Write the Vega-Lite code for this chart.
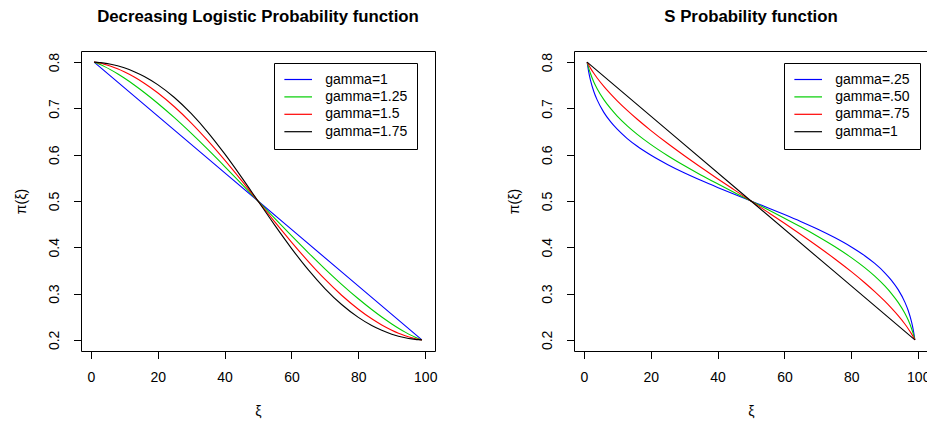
{
  "$schema": "https://vega.github.io/schema/vega-lite/v6.json",
  "background": "white",
  "padding": {"left": 13, "top": 8, "right": 0, "bottom": 0},
  "config": {
    "font": "Liberation Sans",
    "view": {"stroke": "black", "strokeWidth": 1},
    "axis": {
      "grid": false, "domain": false, "tickColor": "black", "tickSize": 7.5, "tickWidth": 1,
      "labelFont": "Liberation Sans", "labelFontSize": 14, "labelColor": "black",
      "titleFont": "Liberation Sans", "titleFontSize": 14, "titleFontWeight": "normal", "titleColor": "black"
    },
    "axisX": {"labelBaseline": "middle", "labelPadding": 19, "titleX": 177, "titleY": 60, "titleAlign": "center", "titleBaseline": "middle"},
    "axisY": {"labelAngle": 270, "labelAlign": "center", "labelBaseline": "middle", "labelPadding": 19.5, "titleX": -60, "titleY": 150, "titleAlign": "center", "titleBaseline": "middle", "titleAngle": 270},
    "title": {"font": "Liberation Sans", "fontSize": 16.8, "fontWeight": "bold", "color": "black", "anchor": "middle", "baseline": "alphabetic", "offset": 25.7},
    "legend": {
      "orient": "none", "legendY": 12, "title": null, "symbolType": "M-3,0H3", "symbolSize": 85, "symbolStrokeWidth": 1.2, "symbolOffset": 7.7,
      "labelFont": "Liberation Sans", "labelFontSize": 14, "labelColor": "black", "labelOffset": 20, "padding": 9.5, "rowPadding": 3.4,
      "strokeColor": "black", "fillColor": "white"
    }
  },
  "datasets": {
    "left": [
      {"g": "gamma=1", "x": 1, "y": 0.8}, {"g": "gamma=1", "x": 25, "y": 0.6531}, {"g": "gamma=1", "x": 50, "y": 0.5}, {"g": "gamma=1", "x": 75, "y": 0.3469}, {"g": "gamma=1", "x": 99, "y": 0.2},
      {"g": "gamma=1.25", "x": 1, "y": 0.8}, {"g": "gamma=1.25", "x": 2, "y": 0.7973}, {"g": "gamma=1.25", "x": 3, "y": 0.7942}, {"g": "gamma=1.25", "x": 4, "y": 0.7908}, {"g": "gamma=1.25", "x": 6, "y": 0.7832}, {"g": "gamma=1.25", "x": 8, "y": 0.7747}, {"g": "gamma=1.25", "x": 10, "y": 0.7655}, {"g": "gamma=1.25", "x": 13, "y": 0.7506}, {"g": "gamma=1.25", "x": 16, "y": 0.7344}, {"g": "gamma=1.25", "x": 20, "y": 0.7112}, {"g": "gamma=1.25", "x": 25, "y": 0.6799}, {"g": "gamma=1.25", "x": 30, "y": 0.6464}, {"g": "gamma=1.25", "x": 35, "y": 0.6113}, {"g": "gamma=1.25", "x": 40, "y": 0.5749}, {"g": "gamma=1.25", "x": 45, "y": 0.5377}, {"g": "gamma=1.25", "x": 50, "y": 0.5}, {"g": "gamma=1.25", "x": 55, "y": 0.4623}, {"g": "gamma=1.25", "x": 60, "y": 0.4251}, {"g": "gamma=1.25", "x": 65, "y": 0.3887}, {"g": "gamma=1.25", "x": 70, "y": 0.3536}, {"g": "gamma=1.25", "x": 75, "y": 0.3201}, {"g": "gamma=1.25", "x": 80, "y": 0.2888}, {"g": "gamma=1.25", "x": 84, "y": 0.2656}, {"g": "gamma=1.25", "x": 87, "y": 0.2494}, {"g": "gamma=1.25", "x": 90, "y": 0.2345}, {"g": "gamma=1.25", "x": 92, "y": 0.2253}, {"g": "gamma=1.25", "x": 94, "y": 0.2168}, {"g": "gamma=1.25", "x": 96, "y": 0.2092}, {"g": "gamma=1.25", "x": 97, "y": 0.2058}, {"g": "gamma=1.25", "x": 98, "y": 0.2027}, {"g": "gamma=1.25", "x": 99, "y": 0.2},
      {"g": "gamma=1.5", "x": 1, "y": 0.8}, {"g": "gamma=1.5", "x": 2, "y": 0.7989}, {"g": "gamma=1.5", "x": 3, "y": 0.7974}, {"g": "gamma=1.5", "x": 4, "y": 0.7955}, {"g": "gamma=1.5", "x": 6, "y": 0.7911}, {"g": "gamma=1.5", "x": 8, "y": 0.7856}, {"g": "gamma=1.5", "x": 10, "y": 0.7791}, {"g": "gamma=1.5", "x": 13, "y": 0.7678}, {"g": "gamma=1.5", "x": 16, "y": 0.7545}, {"g": "gamma=1.5", "x": 20, "y": 0.7338}, {"g": "gamma=1.5", "x": 25, "y": 0.7036}, {"g": "gamma=1.5", "x": 30, "y": 0.6689}, {"g": "gamma=1.5", "x": 35, "y": 0.6303}, {"g": "gamma=1.5", "x": 40, "y": 0.5887}, {"g": "gamma=1.5", "x": 45, "y": 0.5449}, {"g": "gamma=1.5", "x": 50, "y": 0.5}, {"g": "gamma=1.5", "x": 55, "y": 0.4551}, {"g": "gamma=1.5", "x": 60, "y": 0.4113}, {"g": "gamma=1.5", "x": 65, "y": 0.3697}, {"g": "gamma=1.5", "x": 70, "y": 0.3311}, {"g": "gamma=1.5", "x": 75, "y": 0.2964}, {"g": "gamma=1.5", "x": 80, "y": 0.2662}, {"g": "gamma=1.5", "x": 84, "y": 0.2455}, {"g": "gamma=1.5", "x": 87, "y": 0.2322}, {"g": "gamma=1.5", "x": 90, "y": 0.2209}, {"g": "gamma=1.5", "x": 92, "y": 0.2144}, {"g": "gamma=1.5", "x": 94, "y": 0.2089}, {"g": "gamma=1.5", "x": 96, "y": 0.2045}, {"g": "gamma=1.5", "x": 97, "y": 0.2026}, {"g": "gamma=1.5", "x": 98, "y": 0.2011}, {"g": "gamma=1.5", "x": 99, "y": 0.2},
      {"g": "gamma=1.75", "x": 1, "y": 0.8}, {"g": "gamma=1.75", "x": 2, "y": 0.7995}, {"g": "gamma=1.75", "x": 3, "y": 0.7988}, {"g": "gamma=1.75", "x": 4, "y": 0.7979}, {"g": "gamma=1.75", "x": 6, "y": 0.7954}, {"g": "gamma=1.75", "x": 8, "y": 0.792}, {"g": "gamma=1.75", "x": 10, "y": 0.7877}, {"g": "gamma=1.75", "x": 13, "y": 0.7794}, {"g": "gamma=1.75", "x": 16, "y": 0.769}, {"g": "gamma=1.75", "x": 20, "y": 0.7514}, {"g": "gamma=1.75", "x": 25, "y": 0.7236}, {"g": "gamma=1.75", "x": 30, "y": 0.6891}, {"g": "gamma=1.75", "x": 35, "y": 0.6484}, {"g": "gamma=1.75", "x": 40, "y": 0.6022}, {"g": "gamma=1.75", "x": 45, "y": 0.5522}, {"g": "gamma=1.75", "x": 50, "y": 0.5}, {"g": "gamma=1.75", "x": 55, "y": 0.4478}, {"g": "gamma=1.75", "x": 60, "y": 0.3978}, {"g": "gamma=1.75", "x": 65, "y": 0.3516}, {"g": "gamma=1.75", "x": 70, "y": 0.3109}, {"g": "gamma=1.75", "x": 75, "y": 0.2764}, {"g": "gamma=1.75", "x": 80, "y": 0.2486}, {"g": "gamma=1.75", "x": 84, "y": 0.231}, {"g": "gamma=1.75", "x": 87, "y": 0.2206}, {"g": "gamma=1.75", "x": 90, "y": 0.2123}, {"g": "gamma=1.75", "x": 92, "y": 0.208}, {"g": "gamma=1.75", "x": 94, "y": 0.2046}, {"g": "gamma=1.75", "x": 96, "y": 0.2021}, {"g": "gamma=1.75", "x": 97, "y": 0.2012}, {"g": "gamma=1.75", "x": 98, "y": 0.2005}, {"g": "gamma=1.75", "x": 99, "y": 0.2}
    ],
    "right": [
      {"g": "gamma=.25", "x": 1, "y": 0.8}, {"g": "gamma=.25", "x": 1.5, "y": 0.7777}, {"g": "gamma=.25", "x": 2, "y": 0.7611}, {"g": "gamma=.25", "x": 3, "y": 0.7366}, {"g": "gamma=.25", "x": 4, "y": 0.7184}, {"g": "gamma=.25", "x": 6, "y": 0.6915}, {"g": "gamma=.25", "x": 8, "y": 0.6713}, {"g": "gamma=.25", "x": 10, "y": 0.655}, {"g": "gamma=.25", "x": 13, "y": 0.6349}, {"g": "gamma=.25", "x": 16, "y": 0.6182}, {"g": "gamma=.25", "x": 20, "y": 0.5993}, {"g": "gamma=.25", "x": 25, "y": 0.579}, {"g": "gamma=.25", "x": 30, "y": 0.561}, {"g": "gamma=.25", "x": 35, "y": 0.5447}, {"g": "gamma=.25", "x": 40, "y": 0.5293}, {"g": "gamma=.25", "x": 45, "y": 0.5145}, {"g": "gamma=.25", "x": 50, "y": 0.5}, {"g": "gamma=.25", "x": 55, "y": 0.4855}, {"g": "gamma=.25", "x": 60, "y": 0.4707}, {"g": "gamma=.25", "x": 65, "y": 0.4553}, {"g": "gamma=.25", "x": 70, "y": 0.439}, {"g": "gamma=.25", "x": 75, "y": 0.421}, {"g": "gamma=.25", "x": 80, "y": 0.4007}, {"g": "gamma=.25", "x": 84, "y": 0.3818}, {"g": "gamma=.25", "x": 87, "y": 0.3651}, {"g": "gamma=.25", "x": 90, "y": 0.345}, {"g": "gamma=.25", "x": 92, "y": 0.3287}, {"g": "gamma=.25", "x": 94, "y": 0.3085}, {"g": "gamma=.25", "x": 96, "y": 0.2816}, {"g": "gamma=.25", "x": 97, "y": 0.2634}, {"g": "gamma=.25", "x": 98, "y": 0.2389}, {"g": "gamma=.25", "x": 98.5, "y": 0.2223}, {"g": "gamma=.25", "x": 99, "y": 0.2},
      {"g": "gamma=.50", "x": 1, "y": 0.8}, {"g": "gamma=.50", "x": 1.5, "y": 0.7864}, {"g": "gamma=.50", "x": 2, "y": 0.7753}, {"g": "gamma=.50", "x": 3, "y": 0.7572}, {"g": "gamma=.50", "x": 4, "y": 0.7426}, {"g": "gamma=.50", "x": 6, "y": 0.719}, {"g": "gamma=.50", "x": 8, "y": 0.6999}, {"g": "gamma=.50", "x": 10, "y": 0.6835}, {"g": "gamma=.50", "x": 13, "y": 0.6624}, {"g": "gamma=.50", "x": 16, "y": 0.644}, {"g": "gamma=.50", "x": 20, "y": 0.6223}, {"g": "gamma=.50", "x": 25, "y": 0.5983}, {"g": "gamma=.50", "x": 30, "y": 0.5766}, {"g": "gamma=.50", "x": 35, "y": 0.5563}, {"g": "gamma=.50", "x": 40, "y": 0.5371}, {"g": "gamma=.50", "x": 45, "y": 0.5184}, {"g": "gamma=.50", "x": 50, "y": 0.5}, {"g": "gamma=.50", "x": 55, "y": 0.4816}, {"g": "gamma=.50", "x": 60, "y": 0.4629}, {"g": "gamma=.50", "x": 65, "y": 0.4437}, {"g": "gamma=.50", "x": 70, "y": 0.4234}, {"g": "gamma=.50", "x": 75, "y": 0.4017}, {"g": "gamma=.50", "x": 80, "y": 0.3777}, {"g": "gamma=.50", "x": 84, "y": 0.356}, {"g": "gamma=.50", "x": 87, "y": 0.3376}, {"g": "gamma=.50", "x": 90, "y": 0.3165}, {"g": "gamma=.50", "x": 92, "y": 0.3001}, {"g": "gamma=.50", "x": 94, "y": 0.281}, {"g": "gamma=.50", "x": 96, "y": 0.2574}, {"g": "gamma=.50", "x": 97, "y": 0.2428}, {"g": "gamma=.50", "x": 98, "y": 0.2247}, {"g": "gamma=.50", "x": 98.5, "y": 0.2136}, {"g": "gamma=.50", "x": 99, "y": 0.2},
      {"g": "gamma=.75", "x": 1, "y": 0.8}, {"g": "gamma=.75", "x": 1.5, "y": 0.7932}, {"g": "gamma=.75", "x": 2, "y": 0.787}, {"g": "gamma=.75", "x": 3, "y": 0.7758}, {"g": "gamma=.75", "x": 4, "y": 0.7657}, {"g": "gamma=.75", "x": 6, "y": 0.7477}, {"g": "gamma=.75", "x": 8, "y": 0.7315}, {"g": "gamma=.75", "x": 10, "y": 0.7165}, {"g": "gamma=.75", "x": 13, "y": 0.6958}, {"g": "gamma=.75", "x": 16, "y": 0.6766}, {"g": "gamma=.75", "x": 20, "y": 0.6527}, {"g": "gamma=.75", "x": 25, "y": 0.6247}, {"g": "gamma=.75", "x": 30, "y": 0.5983}, {"g": "gamma=.75", "x": 35, "y": 0.5729}, {"g": "gamma=.75", "x": 40, "y": 0.5482}, {"g": "gamma=.75", "x": 45, "y": 0.524}, {"g": "gamma=.75", "x": 50, "y": 0.5}, {"g": "gamma=.75", "x": 55, "y": 0.476}, {"g": "gamma=.75", "x": 60, "y": 0.4518}, {"g": "gamma=.75", "x": 65, "y": 0.4271}, {"g": "gamma=.75", "x": 70, "y": 0.4017}, {"g": "gamma=.75", "x": 75, "y": 0.3753}, {"g": "gamma=.75", "x": 80, "y": 0.3473}, {"g": "gamma=.75", "x": 84, "y": 0.3234}, {"g": "gamma=.75", "x": 87, "y": 0.3042}, {"g": "gamma=.75", "x": 90, "y": 0.2835}, {"g": "gamma=.75", "x": 92, "y": 0.2685}, {"g": "gamma=.75", "x": 94, "y": 0.2523}, {"g": "gamma=.75", "x": 96, "y": 0.2343}, {"g": "gamma=.75", "x": 97, "y": 0.2242}, {"g": "gamma=.75", "x": 98, "y": 0.213}, {"g": "gamma=.75", "x": 98.5, "y": 0.2068}, {"g": "gamma=.75", "x": 99, "y": 0.2},
      {"g": "gamma=1", "x": 1, "y": 0.8}, {"g": "gamma=1", "x": 50, "y": 0.5}, {"g": "gamma=1", "x": 99, "y": 0.2}
    ]
  },
  "bounds": "flush",
  "spacing": 139,
  "resolve": {"scale": {"color": "independent", "x": "independent", "y": "independent"}, "legend": {"color": "independent"}},
  "hconcat": [
    {
      "title": "Decreasing Logistic Probability function",
      "width": 354, "height": 300,
      "data": {"name": "left"},
      "mark": {"type": "line", "interpolate": "monotone", "strokeWidth": 1.1},
      "encoding": {
        "x": {"field": "x", "type": "quantitative", "scale": {"domain": [-2.92, 102.92], "nice": false, "zero": false}, "axis": {"values": [0, 20, 40, 60, 80, 100], "title": "ξ"}},
        "y": {"field": "y", "type": "quantitative", "scale": {"domain": [0.176, 0.824], "nice": false, "zero": false}, "axis": {"values": [0.2, 0.3, 0.4, 0.5, 0.6, 0.7, 0.8], "format": ".1f", "title": "π(ξ)"}},
        "color": {"field": "g", "type": "nominal", "scale": {"domain": ["gamma=1", "gamma=1.25", "gamma=1.5", "gamma=1.75"], "range": ["#0000FF", "#00CD00", "#FF0000", "#000000"]}, "legend": {"legendX": 193}}
      }
    },
    {
      "title": "S Probability function",
      "width": 354, "height": 300,
      "data": {"name": "right"},
      "mark": {"type": "line", "interpolate": "monotone", "strokeWidth": 1.1},
      "encoding": {
        "x": {"field": "x", "type": "quantitative", "scale": {"domain": [-2.92, 102.92], "nice": false, "zero": false}, "axis": {"values": [0, 20, 40, 60, 80, 100], "title": "ξ"}},
        "y": {"field": "y", "type": "quantitative", "scale": {"domain": [0.176, 0.824], "nice": false, "zero": false}, "axis": {"values": [0.2, 0.3, 0.4, 0.5, 0.6, 0.7, 0.8], "format": ".1f", "title": "π(ξ)"}},
        "color": {"field": "g", "type": "nominal", "scale": {"domain": ["gamma=.25", "gamma=.50", "gamma=.75", "gamma=1"], "range": ["#0000FF", "#00CD00", "#FF0000", "#000000"]}, "legend": {"legendX": 210}}
      }
    }
  ]
}
